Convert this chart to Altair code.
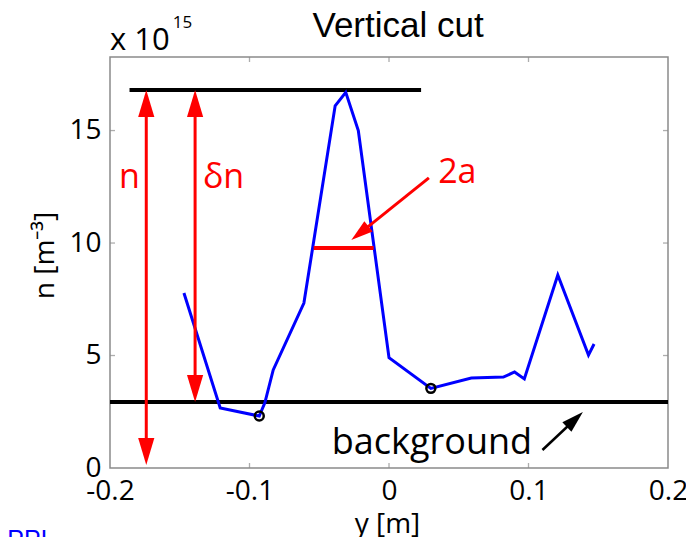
import math
import altair as alt
import pandas as pd

# ---------------- data ----------------
y_pos = [-0.147, -0.121, -0.093, -0.089, -0.083, -0.061, -0.0386, -0.031, -0.022,
         0.0, 0.030, 0.059, 0.082, 0.090, 0.097, 0.121, 0.143, 0.147]
density = [7.78, 2.67, 2.31, 2.90, 4.36, 7.33, 16.1, 16.7, 15.0,
           4.90, 3.54, 4.00, 4.04, 4.27, 3.96, 8.58, 5.02, 5.51]

minima_y = [-0.093, 0.030]
minima_n = [2.31, 3.54]

x_tick_values = [-0.2, -0.1, 0.0, 0.1, 0.2]
y_tick_values = [0, 5, 10, 15]
x_inner_ticks = [-0.1, 0.0, 0.1]
y_inner_ticks = [5, 10, 15]

x_domain = [-0.2, 0.2]
y_domain = [0, 18.27]

peak_level = 16.8
background_level = 2.93
peak_line_x = [-0.186, 0.023]
half_width_level = 9.78
half_width_x = [-0.054, -0.011]
n_arrow_x = -0.174
n_arrow_bottom = 0.13
dn_arrow_x = -0.139
arrow_2a_tail = [0.0286, 12.9]
arrow_2a_tip = [-0.027, 10.13]
bg_arrow_tail = [0.110, 0.80]
bg_arrow_tip = [0.139, 2.49]

label_text = ["n", "δn", "2a"]
label_x = [-0.186, -0.1186, 0.049]
label_y = [12.9, 12.9, 13.1]
background_label = "background"
background_label_pos = [-0.041, 0.62]
exp_base_text = "x 10"
exp_base_pos = [-0.2, 18.58]
exp_power_text = "15"
exp_power_pos = [-0.155, 19.56]
logo_text = "PPL"
logo_pos = [-0.2736, -3.56]
title_text = "Vertical cut"
title_pos = [0.0065, 19.16]

# ---------------- layout ----------------
W, H = 558, 411
PX_X = W / (x_domain[1] - x_domain[0])
PX_Y = H / (y_domain[1] - y_domain[0])
RED = "#ff0000"
BLUE = "#0000ff"
GRAY = "#8a8a8a"
TICK_FONT = "Open Sans"

xs = alt.Scale(domain=x_domain, nice=False, zero=False)
ys = alt.Scale(domain=y_domain, nice=False, zero=False)

x_axis = alt.Axis(values=x_tick_values, title="y [m]", labelExpr="datum.value + ''",
                  ticks=False, domain=False, grid=False, labelOverlap=False, labelFlush=False,
                  labelFont=TICK_FONT, labelFontSize=28, labelColor="black", labelPadding=9,
                  titleFont=TICK_FONT, titleFontSize=28, titleFontWeight="normal",
                  titleColor="black", titleX=277, titleY=64, titleBaseline="alphabetic",
                  titleAlign="center")
y_axis = alt.Axis(values=y_tick_values, title="n [m⁻³]",
                  ticks=False, domain=False, grid=False, labelOverlap=False, labelFlush=False,
                  labelFont=TICK_FONT, labelFontSize=28, labelColor="black", labelPadding=9,
                  titleFont=TICK_FONT, titleFontSize=28, titleFontWeight="normal",
                  titleColor="black", titleX=-57, titleY=198, titleAngle=270,
                  titleBaseline="alphabetic", titleAlign="center")


def X(f="x"):
    return alt.X(f, type="quantitative", scale=xs, axis=x_axis)


def Y(f="y"):
    return alt.Y(f, type="quantitative", scale=ys, axis=y_axis)


# blue profile
profile = pd.DataFrame({"x": y_pos, "y": density, "i": range(len(y_pos))})
line = alt.Chart(profile).mark_line(color=BLUE, strokeWidth=3).encode(
    x=X(), y=Y(), order="i:Q")

circles = alt.Chart(pd.DataFrame({"x": minima_y, "y": minima_n})).mark_point(
    shape="circle", size=80, color="black", strokeWidth=2.5, filled=False,
    opacity=1).encode(x=X(), y=Y())


def shorten(tail, tip, px):
    dx = (tip[0] - tail[0]) * PX_X
    dy = (tip[1] - tail[1]) * PX_Y
    L = math.hypot(dx, dy)
    return [tip[0] - dx / L * px / PX_X, tip[1] - dy / L * px / PX_Y]


def angle_of(tail, tip):
    dx = (tip[0] - tail[0]) * PX_X
    dy = -(tip[1] - tail[1]) * PX_Y  # screen coords
    L = math.hypot(dx, dy)
    sx, sy = dx / L, dy / L
    return math.degrees(math.atan2(sx, -sy)) % 360


head_long = 27
head_small = 22
a2_end = shorten(arrow_2a_tail, arrow_2a_tip, head_small * 0.6)
bg_end = shorten(bg_arrow_tail, bg_arrow_tip, head_small * 0.6)
off_long = head_long * 0.6 / PX_Y

black_rules = pd.DataFrame({
    "x": [peak_line_x[0], x_domain[0]],
    "x2": [peak_line_x[1], x_domain[1]],
    "y": [peak_level, background_level],
    "y2": [peak_level, background_level],
    "w": [4, 4],
})
red_rules = pd.DataFrame({
    "x": [n_arrow_x, dn_arrow_x, half_width_x[0], arrow_2a_tail[0]],
    "x2": [n_arrow_x, dn_arrow_x, half_width_x[1], a2_end[0]],
    "y": [n_arrow_bottom + off_long, background_level + off_long, half_width_level, arrow_2a_tail[1]],
    "y2": [peak_level - off_long, peak_level - off_long, half_width_level, a2_end[1]],
    "w": [3, 3, 4, 3],
})
bg_rule = pd.DataFrame({"x": [bg_arrow_tail[0]], "x2": [bg_end[0]],
                        "y": [bg_arrow_tail[1]], "y2": [bg_end[1]], "w": [2.5]})


def rule_layer(df, color):
    return alt.Chart(df).mark_rule(color=color, strokeCap="butt").encode(
        x=X(), x2="x2:Q", y=Y(), y2="y2:Q", strokeWidth=alt.StrokeWidth("w:Q", scale=None))


heads = pd.DataFrame({
    "x": [n_arrow_x, n_arrow_x, dn_arrow_x, dn_arrow_x, arrow_2a_tip[0], bg_arrow_tip[0]],
    "y": [peak_level, n_arrow_bottom, peak_level, background_level, arrow_2a_tip[1], bg_arrow_tip[1]],
    "angle": [0, 180, 0, 180, angle_of(arrow_2a_tail, arrow_2a_tip), angle_of(bg_arrow_tail, bg_arrow_tip)],
    "size": [head_long ** 2] * 4 + [head_small ** 2] * 2,
    "c": [RED] * 5 + ["black"],
})
head_layer = alt.Chart(heads).mark_point(
    shape="M0,0L-0.6,2L0.6,2Z", filled=True, opacity=1, strokeWidth=0).encode(
    x=X(), y=Y(),
    angle=alt.Angle("angle:Q", scale=None),
    size=alt.Size("size:Q", scale=None),
    color=alt.Color("c:N", scale=None))

# inner ticks on the frame
tick_style = dict(color=GRAY, thickness=1.3, size=5)
t_bottom = alt.Chart(pd.DataFrame({"x": x_inner_ticks, "y": [y_domain[0]] * 3})).mark_tick(
    orient="vertical", yOffset=-2.5, **tick_style).encode(x=X(), y=Y())
t_top = alt.Chart(pd.DataFrame({"x": x_inner_ticks, "y": [y_domain[1]] * 3})).mark_tick(
    orient="vertical", yOffset=2.5, **tick_style).encode(x=X(), y=Y())
t_left = alt.Chart(pd.DataFrame({"x": [x_domain[0]] * 3, "y": y_inner_ticks})).mark_tick(
    orient="horizontal", xOffset=2.5, **tick_style).encode(x=X(), y=Y())
t_right = alt.Chart(pd.DataFrame({"x": [x_domain[1]] * 3, "y": y_inner_ticks})).mark_tick(
    orient="horizontal", xOffset=-2.5, **tick_style).encode(x=X(), y=Y())


def text_layer(texts, xs_, ys_, align, baseline, font, size, color):
    df = pd.DataFrame({"x": xs_, "y": ys_, "t": texts})
    return alt.Chart(df).mark_text(align=align, baseline=baseline, font=font,
                                   fontSize=size, color=color).encode(
        x=X(), y=Y(), text="t:N")


red_labels = text_layer(label_text, label_x, label_y, "center", "middle", "Open Sans", 34, RED)
bg_label = text_layer([background_label], [background_label_pos[0]], [background_label_pos[1]],
                      "left", "alphabetic", "Open Sans", 36, "black")
exp_base = text_layer([exp_base_text], [exp_base_pos[0]], [exp_base_pos[1]],
                      "left", "alphabetic", "Open Sans", 31, "black")
exp_pow = text_layer([exp_power_text], [exp_power_pos[0]], [exp_power_pos[1]],
                     "left", "alphabetic", "Open Sans", 17, "black")
logo = text_layer([logo_text], [logo_pos[0]], [logo_pos[1]],
                  "left", "alphabetic", "Liberation Sans", 25, BLUE)
title = text_layer([title_text], [title_pos[0]], [title_pos[1]],
                   "center", "alphabetic", "Liberation Sans", 35, "black")

chart = alt.layer(
    t_bottom, t_top, t_left, t_right,
    rule_layer(black_rules, "black"),
    line,
    rule_layer(red_rules, RED),
    rule_layer(bg_rule, "black"),
    head_layer,
    circles,
    red_labels, bg_label, exp_base, exp_pow, logo, title,
).properties(
    width=W, height=H,
    autosize=alt.AutoSizeParams(type="none"),
    padding={"left": 102, "top": 49, "right": 18, "bottom": 69},
).configure_view(stroke=GRAY, strokeWidth=1.5)

chart.save("out.html", embed_options={"renderer": "svg", "actions": False})
